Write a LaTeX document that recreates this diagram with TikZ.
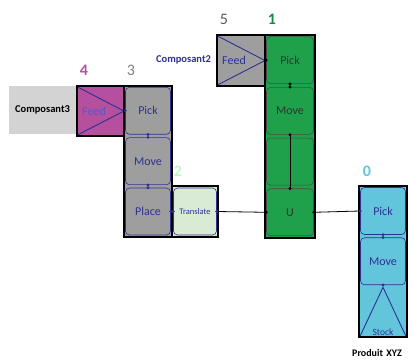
\documentclass[tikz,border=0pt]{standalone}
\usepackage{fontspec}
\setmainfont{Carlito}
\definecolor{magc}{HTML}{B5509F}
\definecolor{grnc}{HTML}{1FA04A}
\definecolor{cyac}{HTML}{62C5DC}
\definecolor{gryc}{HTML}{9E9E9E}
\definecolor{trac}{HTML}{D9EBD5}
\definecolor{bgc}{HTML}{D3D3D3}
\definecolor{inkc}{HTML}{2E3192}
\definecolor{feedc}{HTML}{5A56C8}
\begin{document}
\begin{tikzpicture}[x=1pt,y=-1pt,
  cell/.style={draw=inkc, line width=0.6pt, rounded corners=4pt, minimum width=45pt, minimum height=47pt, inner sep=0pt, text=inkc, font=\fontsize{12}{14}\selectfont},
  frame/.style={draw=black, line width=1.6pt},
  num/.style={font=\fontsize{16}{18}\selectfont},
  dot/.style={fill=inkc}]
\useasboundingbox (0,0) rectangle (413,363);
\fill [bgc] (9,86) rectangle (76,134);
\node [font=\fontsize{10.5}{12}\selectfont\bfseries] (c3) at (42.5,110) {Composant3};
\node [font=\fontsize{10.5}{12}\selectfont\bfseries, text=inkc] (c2) at (183.5,60) {Composant2};
\node [font=\fontsize{10}{12}\selectfont\bfseries] (px) at (377,353) {Produit\,\,XYZ};
\node [num, text=magc, font=\fontsize{16}{18}\selectfont\bfseries] (n4) at (84,70) {4};
\node [num, text=gray] (n3) at (131,70) {3};
\node [num, text=trac!70!green!60, font=\fontsize{16}{18}\selectfont\bfseries] (n2) at (178,171) {2};
\node [num, text=black!65] (n5) at (224,19) {5};
\node [num, text=grnc!85!black, font=\fontsize{16}{18}\selectfont\bfseries] (n1) at (272,19) {1};
\node [num, text=cyac, font=\fontsize{16}{18}\selectfont\bfseries] (n0) at (367,171) {0};
% feed 4
\fill [magc] (77,86) rectangle (124,136);
\draw [inkc, line width=0.9pt] (77.5,87) -- (124,111) -- (77.5,135);
\node [text=feedc, font=\fontsize{12}{14}\selectfont] (f4) at (94,111) {Feed};
\draw [frame] (77,86) rectangle (124,136);
% feed 5
\fill [gryc] (217,35) rectangle (265,86);
\draw [inkc, line width=0.9pt] (217.5,36) -- (265,60.5) -- (217.5,85);
\node [text=inkc, font=\fontsize{12}{14}\selectfont] (f5) at (234,60.5) {Feed};
\draw [frame] (217,35) rectangle (265,86);
% column 3
\draw [frame, fill=gryc] (124,86) rectangle (172,237);
\node [cell, fill=gryc] (p3) at (148,110.8) {Pick};
\node [cell, fill=gryc] (m3) at (148,161.2) {Move};
\node [cell, fill=gryc] (l3) at (148,211.5) {Place};
% translate
\draw [frame, fill=trac] (172,186) rectangle (218,237);
\node [cell, fill=trac, minimum width=43pt, font=\fontsize{8.5}{10}\selectfont] (t2) at (195,211.5) {Translate};
% column 1
\draw [frame, fill=grnc] (265,35) rectangle (315,238);
\node [cell, fill=grnc, draw=black!70, minimum width=47pt, text=black!80] (p1) at (290,60.2) {Pick};
\node [cell, fill=grnc, draw=black!70, minimum width=47pt, text=black!80] (m1) at (290,110.9) {Move};
\node [cell, fill=grnc, draw=black!70, minimum width=47pt] (e1) at (290,161.6) {};
\node [cell, fill=grnc, draw=black!70, minimum width=47pt, text=black!80] (u1) at (290,212.3) {U};
% column 0
\draw [frame, fill=cyac] (359,186) rectangle (407,337);
\node [cell, fill=cyac] (p0) at (383,211) {Pick};
\node [cell, fill=cyac] (m0) at (383,261.3) {Move};
\node [minimum width=45pt, minimum height=48pt, inner sep=0pt] (s0) at (383,311.5) {};
\draw [inkc, line width=0.9pt] (s0.south west) -- (s0.north) -- (s0.south east);
\node [text=inkc, font=\fontsize{9.5}{11}\selectfont, anchor=south] at ([yshift=-3pt]s0.south) {Stock};
% links
\draw [black, line width=0.8pt] (t2.east) -- (u1.west);
\draw [black, line width=0.8pt] (u1.east) -- (p0.west);
\draw [black, line width=0.8pt] (m1.south) -- (u1.north);
\foreach \a in {p3.south,m3.north,m3.south,l3.north,l3.east,t2.west,t2.east,p0.west,p0.south,m0.north,m0.south,p3.west}
  \fill [dot] (\a) circle (1.6pt);
\foreach \a in {p1.west,p1.south,m1.north,m1.south,u1.north,u1.west,u1.east}
  \fill [black] (\a) circle (1.6pt);
\end{tikzpicture}
\end{document}
